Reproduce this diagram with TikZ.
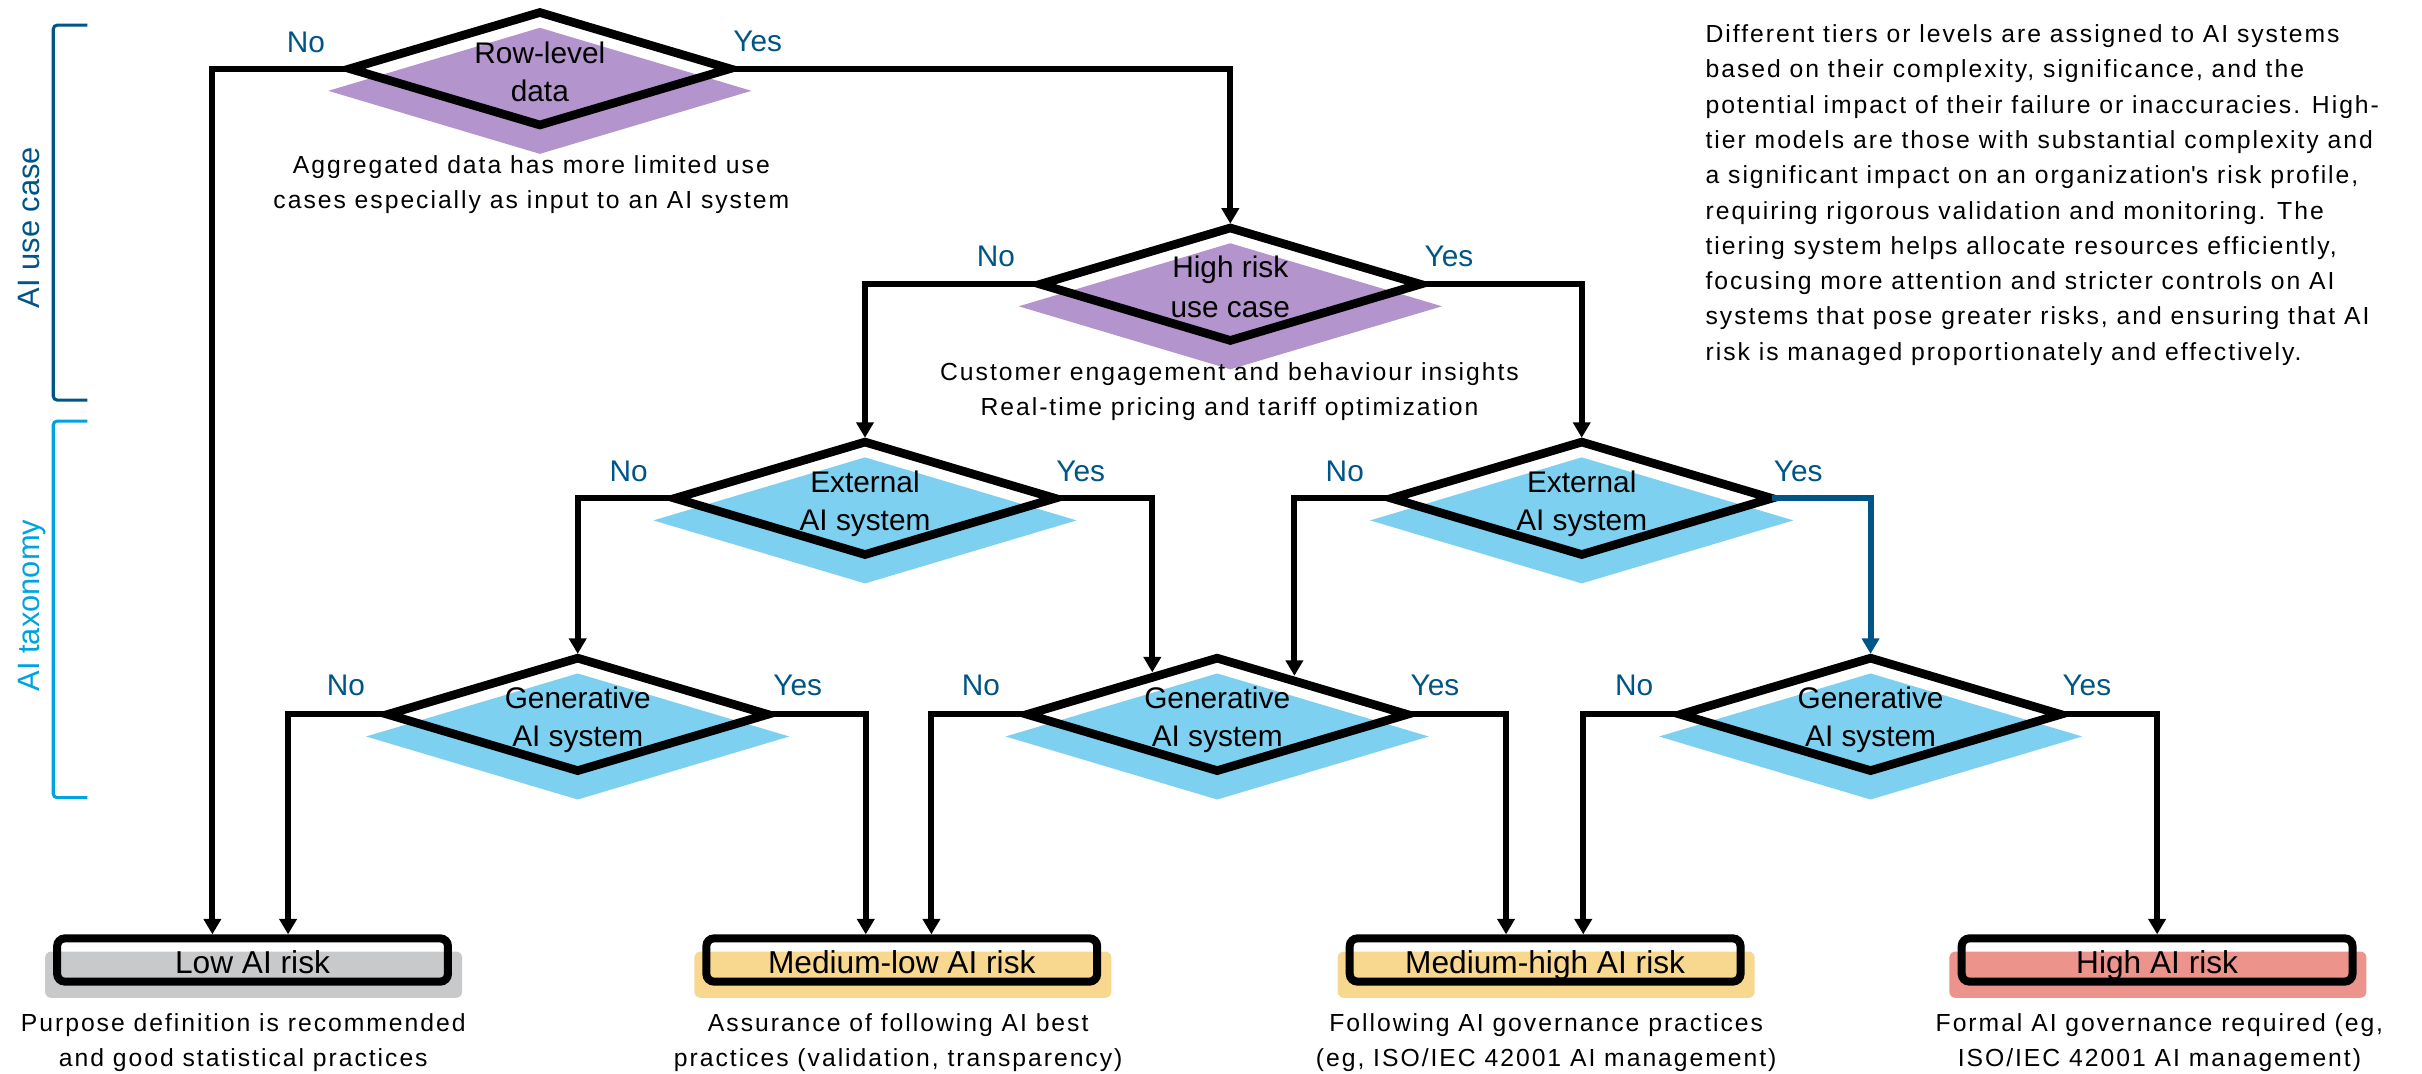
\documentclass[tikz,border=0pt]{standalone}
\usepackage{fontspec}
\setmainfont{Liberation Sans}
\newfontfamily\trackfont{Liberation Sans}[LetterSpace=8]
\usetikzlibrary{shapes.geometric,arrows.meta,calc}
\definecolor{dblue}{HTML}{005587}
\definecolor{lblue}{HTML}{00A3E0}
\definecolor{purp}{HTML}{B394CC}
\definecolor{sky}{HTML}{7ED0F0}
\definecolor{grayf}{HTML}{C8C9CB}
\definecolor{yell}{HTML}{F8D88F}
\definecolor{salm}{HTML}{EC938C}
\newcommand\dstrut{\rule[-3.5pt]{0pt}{24.4pt}}
\newcommand\sstrut{\rule[-6.5pt]{0pt}{22.5pt}}
\newcommand\pstrut{\rule[-6.85pt]{0pt}{22.85pt}}
\begin{document}
\begin{tikzpicture}[x=1pt,y=-1pt,
  dia/.style={shape=diamond, draw=black, line width=5.6pt, minimum width=246pt, minimum height=72.8pt, inner sep=0pt, outer sep=0pt},
  dfill/.style={shape=diamond, draw=none, minimum width=274pt, minimum height=81.6pt, inner sep=0pt, outer sep=0pt},
  dtext/.style={font=\fontsize{19.3}{24.4}\selectfont, align=center, inner sep=0pt},
  lab/.style={text=dblue, font=\fontsize{19.3}{23}\selectfont, inner sep=0pt},
  stext/.style={font=\trackfont\fontsize{16}{22.5}\selectfont, align=center, inner sep=0pt, anchor=north},
  rbox/.style={draw=black, line width=5.2pt, rounded corners=5pt, minimum width=253pt, minimum height=28pt, inner sep=0pt, text height=18.4pt, text depth=0.6pt, font=\fontsize{20.5}{24}\selectfont},
  fbox/.style={draw=none, rounded corners=4pt, minimum width=270pt, minimum height=30pt, inner sep=0pt},
  conn/.style={line width=3.8pt, -{Triangle[width=11pt,length=10pt]}},
  todia/.style={conn, shorten >=2.8pt},
  bracket/.style={line width=2pt, rounded corners=2.5pt},
  side/.style={font=\fontsize{20}{24}\selectfont, rotate=90, inner sep=0pt, text height=14.3pt, text depth=0pt}
]
\useasboundingbox (0,0) rectangle (1568,695);

% side brackets
\draw[bracket, dblue] (56.5,16.3) -- (34.5,16.3) -- (34.5,259) -- (56.5,259);
\draw[bracket, lblue] (56.5,272.6) -- (34.5,272.6) -- (34.5,516.4) -- (56.5,516.4);
\node[side, text=dblue] (UC) at (18.3,147.3) {AI use case};
\node[side, text=lblue] (TX) at (18.3,392) {AI taxonomy};

% diamond fills
\node[dfill, fill=purp] (D1f) at (349.5,58.8) {};
\node[dfill, fill=purp] (D2f) at (796.5,198.3) {};
\node[dfill, fill=sky] (D3f) at (560,336.9) {};
\node[dfill, fill=sky] (D4f) at (1024,336.9) {};
\node[dfill, fill=sky] (D5f) at (374,476.8) {};
\node[dfill, fill=sky] (D6f) at (788,476.8) {};
\node[dfill, fill=sky] (D8f) at (1211,476.8) {};

% diamond outlines
\node[dia] (D1) at (349.5,44.5) {};
\node[dia] (D2) at (796.5,184) {};
\node[dia] (D3) at (560,322.6) {};
\node[dia] (D4) at (1024,322.6) {};
\node[dia] (D5) at (374,462.5) {};
\node[dia] (D6) at (788,462.5) {};
\node[dia] (D8) at (1211,462.5) {};

% diamond texts
\node[dtext] (D1t) at (D1.center) {\dstrut Row-level\\\dstrut data};
\node[dtext] (D2t) at (D2.center) {\dstrut High risk\\\dstrut use case};
\node[dtext] (D3t) at (D3.center) {\dstrut External\\\dstrut AI system};
\node[dtext] (D4t) at (D4.center) {\dstrut External\\\dstrut AI system};
\node[dtext] (D5t) at (D5.center) {\dstrut Generative\\\dstrut AI system};
\node[dtext] (D6t) at (D6.center) {\dstrut Generative\\\dstrut AI system};
\node[dtext] (D8t) at (D8.center) {\dstrut Generative\\\dstrut AI system};

% result boxes
\node[fbox, fill=grayf] (LowF) at (164.2,631) {};
\node[fbox, fill=yell] (MLF) at (584.5,631) {};
\node[fbox, fill=yell] (MHF) at (1001,631) {};
\node[fbox, fill=salm] (HiF) at (1397,631) {};
\node[rbox] (Low) at (163.5,621.5) {Low AI risk};
\node[rbox] (ML) at (583.8,621.5) {Medium-low AI risk};
\node[rbox] (MH) at (1000.3,621.5) {Medium-high AI risk};
\node[rbox] (Hi) at (1396.5,621.5) {High AI risk};

% arrow landing points
\coordinate (LowA) at ($(Low.north)+(-26,0)$);
\coordinate (LowB) at ($(Low.north)+(23,0)$);
\coordinate (MLA) at ($(ML.north)+(-23.3,0)$);
\coordinate (MLB) at ($(ML.north)+(19.2,0)$);
\coordinate (MHA) at ($(MH.north)+(-25.3,0)$);
\coordinate (MHB) at ($(MH.north)+(24.7,0)$);
\coordinate (T36) at ($(D6.center)+(-42,-27.2)$);
\coordinate (T46) at ($(D6.center)+(50,-25)$);

% connectors
\draw[conn] (D1.west) -| (LowA);
\draw[todia] (D1.east) -| (D2.north);
\draw[todia] (D2.west) -| (D3.north);
\draw[todia] (D2.east) -| (D4.north);
\draw[todia] (D3.west) -| (D5.north);
\draw[conn] (D3.east) -| (T36);
\draw[conn] (D4.west) -| (T46);
\draw[todia, dblue] (D4.east) -| (D8.north);
\draw[conn] (D5.west) -| (LowB);
\draw[conn] (D5.east) -| (MLA);
\draw[conn] (D6.west) -| (MLB);
\draw[conn] (D6.east) -| (MHA);
\draw[conn] (D8.west) -| (MHB);
\draw[conn] (D8.east) -| (Hi.north);

% yes / no labels
\node[lab] (n1) at (198,27.3) {No};
\node[lab] (y1) at (490.5,26.5) {Yes};
\node[lab] (n2) at (644.8,166) {No};
\node[lab] (y2) at (938,166) {Yes};
\node[lab] (n3) at (407,305.4) {No};
\node[lab] (y3) at (699.7,305.4) {Yes};
\node[lab] (n4) at (870.6,305.4) {No};
\node[lab] (y4) at (1164.2,305.4) {Yes};
\node[lab] (n5) at (224,443.5) {No};
\node[lab] (y5) at (516.4,443.5) {Yes};
\node[lab] (n6) at (635,444) {No};
\node[lab] (y6) at (929,443.5) {Yes};
\node[lab] (n8) at (1058,444) {No};
\node[lab] (y8) at (1351,443.5) {Yes};

% notes under diamonds
\node[stext] (D1n) at (344,96) {\sstrut Aggregated data has more limited use\\\sstrut cases especially as input to an AI system};
\node[stext] (D2n) at (796,230) {\sstrut Customer engagement and behaviour insights\\\sstrut Real-time pricing and tariff optimization};

% notes under boxes
\node[stext] (LowN) at (157.5,651.5) {\sstrut Purpose definition is recommended\\\sstrut and good statistical practices};
\node[stext] (MLN) at (581.5,651.5) {\sstrut Assurance of following AI best\\\sstrut practices (validation, transparency)};
\node[stext] (MHN) at (1001,651.5) {\sstrut Following AI governance practices\\\sstrut (eg, ISO/IEC 42001 AI management)};
\node[stext] (HiN) at (1398,651.5) {\sstrut Formal AI governance required (eg,\\\sstrut ISO/IEC 42001 AI management)};

% paragraph
\node[font=\trackfont\fontsize{16}{22.85}\selectfont, align=left, inner sep=0pt, anchor=north west] (Para) at (1104,11.4) {%
\pstrut Different tiers or levels are assigned to AI systems\\
\pstrut based on their complexity, significance, and the\\
\pstrut potential impact of their failure or inaccuracies. High-\\
\pstrut tier models are those with substantial complexity and\\
\pstrut a significant impact on an organization\textquotesingle s risk profile,\\
\pstrut requiring rigorous validation and monitoring. The\\
\pstrut tiering system helps allocate resources efficiently,\\
\pstrut focusing more attention and stricter controls on AI\\
\pstrut systems that pose greater risks, and ensuring that AI\\
\pstrut risk is managed proportionately and effectively.};
\end{tikzpicture}
\end{document}
